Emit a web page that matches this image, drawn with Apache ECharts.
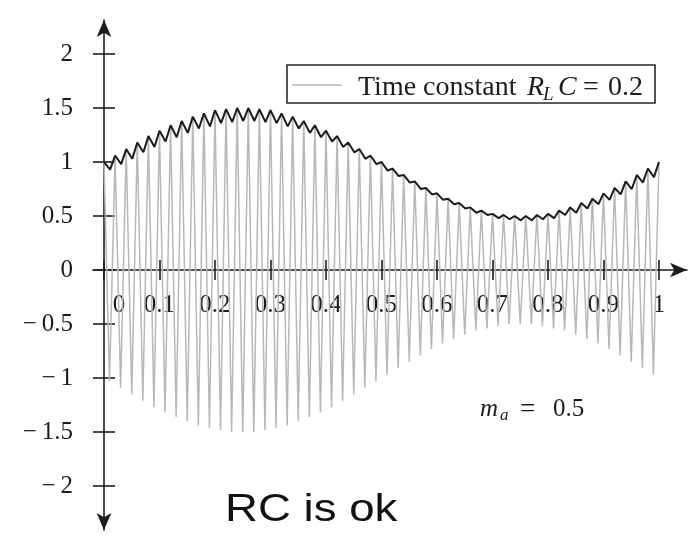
<!DOCTYPE html>
<html>
<head>
<meta charset="utf-8">
<script src="https://cdn.jsdelivr.net/npm/echarts@6/dist/echarts.min.js"></script>
<style>
  html, body { margin: 0; padding: 0; background: #fff; }
  #chart { width: 688px; height: 536px; }
</style>
</head>
<body>
<div id="chart"></div>
<script>
// AM wave with modulation index 0.5: positive crest of every carrier cycle (t = 0, 0.02, ... 1)
const upperPeaks = [
  1.00, 1.06, 1.12, 1.18, 1.24, 1.29, 1.34, 1.38, 1.42, 1.45,
  1.48, 1.49, 1.50, 1.50, 1.49, 1.48, 1.45, 1.42, 1.38, 1.34,
  1.29, 1.24, 1.18, 1.12, 1.06, 1.00, 0.94, 0.88, 0.82, 0.76,
  0.71, 0.66, 0.62, 0.58, 0.55, 0.52, 0.51, 0.50, 0.50, 0.51,
  0.52, 0.55, 0.58, 0.62, 0.66, 0.71, 0.76, 0.82, 0.88, 0.94,
  1.00
];
// negative troughs, half a carrier cycle after each crest (t = 0.01, 0.03, ... 0.99)
const lowerPeaks = [
  -1.03, -1.09, -1.15, -1.21, -1.27, -1.32, -1.36, -1.40, -1.44, -1.46,
  -1.48, -1.50, -1.50, -1.50, -1.48, -1.46, -1.44, -1.40, -1.36, -1.32,
  -1.27, -1.21, -1.15, -1.09, -1.03, -0.97, -0.91, -0.85, -0.79, -0.73,
  -0.68, -0.64, -0.60, -0.56, -0.54, -0.52, -0.50, -0.50, -0.50, -0.52,
  -0.54, -0.56, -0.60, -0.64, -0.68, -0.73, -0.79, -0.85, -0.91, -0.97
];
// envelope detector output: lowest point of the capacitor discharge before each recharge
const detectorValleys = [
  0.93, 0.98, 1.03, 1.09, 1.14, 1.19, 1.23, 1.27, 1.31, 1.33,
  1.36, 1.37, 1.38, 1.38, 1.37, 1.36, 1.33, 1.31, 1.27, 1.23,
  1.19, 1.14, 1.09, 1.03, 0.98, 0.92, 0.87, 0.81, 0.75, 0.70,
  0.65, 0.61, 0.57, 0.53, 0.51, 0.48, 0.47, 0.46, 0.46, 0.47,
  0.48, 0.51, 0.53, 0.57, 0.61, 0.65, 0.70, 0.75, 0.81, 0.86
];
const xTicks = [0, 0.1, 0.2, 0.3, 0.4, 0.5, 0.6, 0.7, 0.8, 0.9, 1];
const yTicks = [-2, -1.5, -1, -0.5, 0, 0.5, 1, 1.5, 2];

const CARRIER_PERIOD = 0.02;   // seconds per carrier cycle
const VALLEY_LEAD = 0.009;     // discharge minimum sits this long before the next crest

// carrier: crest, trough, crest, ...
const carrierPts = [];
for (let k = 0; k < upperPeaks.length; k++) {
  carrierPts.push([k * CARRIER_PERIOD, upperPeaks[k]]);
  if (k < lowerPeaks.length) carrierPts.push([(k + 0.5) * CARRIER_PERIOD, lowerPeaks[k]]);
}
// detector output: charges to each crest, then decays to the next valley
const detectorPts = [[0, upperPeaks[0]]];
for (let k = 1; k < upperPeaks.length; k++) {
  detectorPts.push([k * CARRIER_PERIOD - VALLEY_LEAD, detectorValleys[k - 1]]);
  detectorPts.push([k * CARRIER_PERIOD, upperPeaks[k]]);
}

const SERIF = '"Liberation Serif", "Times New Roman", serif';
const INK = '#1c1c1c';
const GREY = '#b8b8b8';

// place text pieces (plain / italic / subscript) at given left edges
function textPieces(yMid, pieces, z) {
  return pieces.map(p => {
    const size = p.size || 25;
    const font = (p.italic ? 'italic ' : '') + size + 'px ' + SERIF;
    return {
      type: 'text', x: p.x, y: yMid + (p.dy || 0), silent: true, z: z || 1,
      style: { text: p.t, font: font, fill: INK, align: 'left', verticalAlign: 'middle' }
    };
  });
}

function yLabel(v) {
  if (v === 0) return '0';
  const s = String(Math.abs(v));
  return v < 0 ? '\u2212\u2009' + s : s;
}
function xLabel(v) {
  // the zero label is nudged right, clear of the vertical axis
  if (Math.abs(v) < 1e-9) return '\u2002\u2002\u20090';
  if (Math.abs(v - 1) < 1e-9) return '1';
  return v.toFixed(1);
}

const labelFont = { fontFamily: SERIF, fontSize: 25, color: INK };
const X_MIN = -0.0198, X_MAX = 1.0505;
const Y_MIN = -2.407, Y_MAX = 2.315;
const GRID = { left: 93, right: 1, top: 20, bottom: 6 };
// distance from the bottom of the plot area up to the y = 0 line
const ZERO_LIFT = (536 - GRID.top - GRID.bottom) * (0 - Y_MIN) / (Y_MAX - Y_MIN);
const axisLineStyle = { color: INK, width: 1.6 };

const chart = echarts.init(document.getElementById('chart'), null, { renderer: 'canvas' });
chart.setOption({
  animation: false,
  backgroundColor: '#fff',
  grid: Object.assign({ containLabel: false, outerBoundsMode: 'none' }, GRID),
  xAxis: [
    {
      // time axis drawn along y = 0, with its labels underneath
      type: 'value', min: X_MIN, max: X_MAX, position: 'bottom',
      offset: -ZERO_LIFT,
      axisLine: { show: true, onZero: false,
        symbol: ['none', 'arrow'], symbolSize: [11, 17], lineStyle: axisLineStyle },
      axisTick: { show: true, inside: false, length: 10, customValues: xTicks, lineStyle: axisLineStyle },
      axisLabel: Object.assign({ show: true, customValues: xTicks, margin: 23,
        formatter: xLabel, hideOverlap: false }, labelFont),
      splitLine: { show: false }
    },
    {
      // upper half of the crossing tick marks
      type: 'value', min: X_MIN, max: X_MAX, position: 'top',
      axisLine: { show: false, onZero: true, onZeroAxisIndex: 1 },
      axisTick: { show: true, inside: false, length: 10, customValues: xTicks, lineStyle: axisLineStyle },
      axisLabel: { show: false },
      splitLine: { show: false }
    }
  ],
  yAxis: [
    {
      type: 'value', min: Y_MIN, max: Y_MAX, position: 'left',
      axisLine: { show: true, onZero: true, onZeroAxisIndex: 0,
        symbol: ['arrow', 'arrow'], symbolSize: [11, 17], lineStyle: axisLineStyle },
      axisTick: { show: true, inside: false, length: 11, customValues: yTicks, lineStyle: axisLineStyle },
      axisLabel: Object.assign({ show: true, customValues: yTicks, margin: 20,
        formatter: yLabel }, labelFont),
      splitLine: { show: false }
    },
    {
      // right half of the crossing tick marks
      type: 'value', min: Y_MIN, max: Y_MAX, position: 'right',
      axisLine: { show: false, onZero: true, onZeroAxisIndex: 1 },
      axisTick: { show: true, inside: false, length: 11, customValues: yTicks, lineStyle: axisLineStyle },
      axisLabel: { show: false },
      splitLine: { show: false }
    }
  ],
  series: [
    {
      name: 'carrier', type: 'line', xAxisIndex: 0, yAxisIndex: 0,
      data: carrierPts, symbol: 'none', showSymbol: false, z: 2,
      lineStyle: { color: GREY, width: 1.5 }
    },
    {
      name: 'detector', type: 'line', xAxisIndex: 0, yAxisIndex: 0,
      data: detectorPts, symbol: 'none', showSymbol: false, z: 3,
      lineStyle: { color: INK, width: 2 }
    }
  ],
  graphic: [
    { type: 'rect', shape: { x: 287, y: 65, width: 368, height: 38 }, silent: true,
      style: { fill: '#fff', stroke: '#2a2a2a', lineWidth: 1.6 }, z: 10 },
    { type: 'line', shape: { x1: 292, y1: 85, x2: 342, y2: 85 }, silent: true,
      style: { stroke: GREY, lineWidth: 1.6 }, z: 11 },
    ...textPieces(87.5, [
      { t: 'Time constant', x: 358, size: 28 },
      { t: 'R', x: 527, size: 28, italic: true },
      { t: 'L', x: 543, size: 19, italic: true, dy: 7 },
      { t: 'C', x: 558, size: 28, italic: true },
      { t: '=', x: 583, size: 28 },
      { t: '0.2', x: 608, size: 28 }
    ], 11),
    ...textPieces(409.5, [
      { t: 'm', x: 480, italic: true },
      { t: 'a', x: 500, size: 17, italic: true, dy: 6 },
      { t: '=', x: 520, size: 27 },
      { t: '0.5', x: 553 }
    ]),
    { type: 'text', x: 225, y: 511, scaleX: 1.2, silent: true,
      style: { text: 'RC is ok', font: '38px "Liberation Sans", Arial, sans-serif',
        fill: '#111', align: 'left', verticalAlign: 'middle' } }
  ]
});
</script>
</body>
</html>
